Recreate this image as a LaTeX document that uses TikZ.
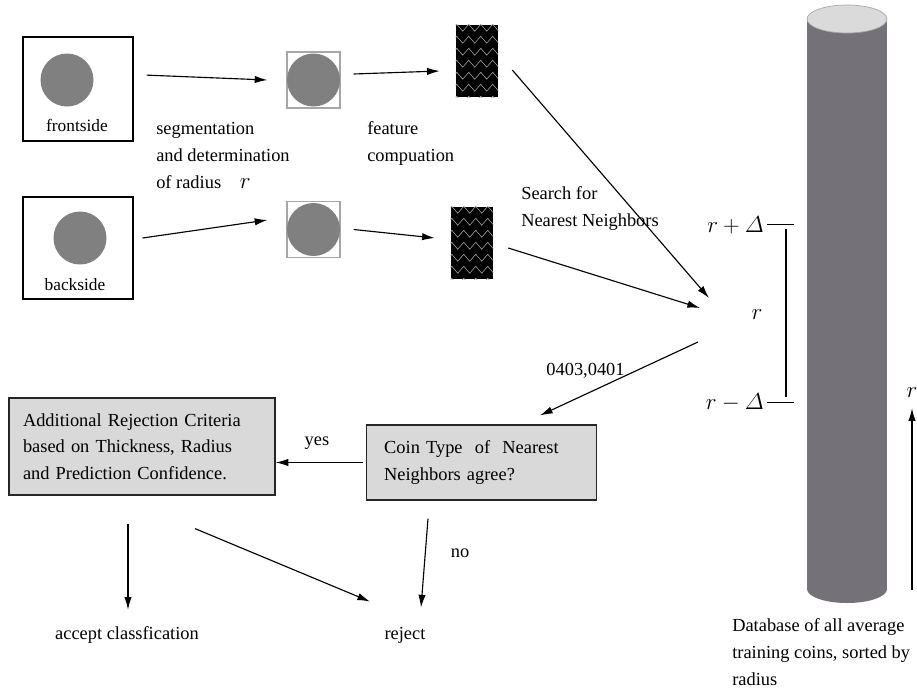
\documentclass[tikz,border=0pt]{standalone}
\usepackage[no-math]{fontspec}
\setmainfont{Liberation Serif}
\usepackage{amsmath}
\usetikzlibrary{calc,arrows.meta,decorations.pathmorphing}

\definecolor{coingray}{RGB}{128,128,128}
\definecolor{boxgray}{RGB}{217,217,217}
\definecolor{dbgray}{RGB}{116,114,120}
\definecolor{dbtop}{RGB}{218,218,218}

\tikzset{
  lbl/.style={inner sep=0pt,font=\fontsize{13.8}{19.9}\selectfont,align=left},
  mlbl/.style={inner sep=0pt,font=\fontsize{17}{20}\selectfont},
  side/.style={draw=black,line width=0.8pt,minimum width=82.5pt,inner sep=0pt},
  coin/.style={circle,fill=coingray,minimum size=39.75pt,inner sep=0pt},
  cut/.style={draw=gray!70,line width=0.9pt,minimum width=39.75pt,minimum height=42pt,inner sep=0pt},
  feat/.style={fill=black,minimum width=31.5pt,minimum height=54pt,inner sep=0pt},
  zz/.style={draw=gray!75,line width=0.45pt,decorate,decoration={zigzag,segment length=9pt,amplitude=2.6pt}},
  decision/.style={draw=black!85,line width=0.9pt,fill=boxgray,align=left,inner ysep=0pt,font=\fontsize{13.8}{19.9}\selectfont},
  arr/.style={-{Latex[length=9.5pt,width=5.5pt]},line width=0.85pt},
}

\begin{document}
\begin{tikzpicture}[yscale=-1,x=0.75pt,y=0.75pt]
\useasboundingbox (0,0) rectangle (917,690);

\node[side,minimum height=78pt] (Nfront) at (78,89) {};
\node[coin] (Ncoinf) at (67,80) {};
\node[lbl,font=\fontsize{13}{15}\selectfont,anchor=base] (Lfront) at (77,131) {frontside};
\node[side,minimum height=76.5pt] (Nback) at (78,248) {};
\node[coin] (Ncoinb) at (80,238) {};
\node[lbl,font=\fontsize{13}{15}\selectfont,anchor=base] (Lback) at (75,290) {backside};

\node[cut] (Ncut1) at (313.5,80) {};
\node[coin] (Ncoin1) at (313.5,80) {};
\node[cut] (Ncut2) at (313.5,229.5) {};
\node[coin] (Ncoin2) at (313.5,229.5) {};

\node[feat] (Nfeat1) at (477,61) {};
\node[feat] (Nfeat2) at (472,243) {};
\foreach \f in {Nfeat1,Nfeat2}{
  \begin{scope}
    \clip (\f.south west) rectangle (\f.north east);
    \foreach \k in {0,...,6}
      \draw[zz] ($(\f.north west)+(-2,3+12*\k)$) -- ++(48,0);
  \end{scope}
}

\node[lbl,anchor=base west] (Lseg) at (156,188) {segmentation\\and determination\\of radius\hspace{14pt}{\fontsize{17}{20}\selectfont$r$}};
\node[lbl,anchor=base west] (Lfeat) at (367,161.5) {feature\\compuation};
\node[lbl,anchor=base west] (Lsearch) at (521,226.5) {Search for\\Nearest Neighbors};

\fill[dbgray] (807,19) rectangle (887,589);
\fill[dbgray] (847,589) ellipse [x radius=30pt,y radius=10.5pt];
\filldraw[fill=dbtop,draw=gray!70,line width=0.5pt] (847,19) ellipse [x radius=30pt,y radius=10.5pt];

\node[mlbl,anchor=base east] (Nrp) at (764,232) {$r+\varDelta$};
\node[mlbl,anchor=base east] (Nrm) at (764,409) {$r-\varDelta$};
\node[mlbl] (Nr) at (757,315) {$r$};
\node[mlbl] (Nrr) at (912,393) {$r$};
\coordinate (Bt) at (786,229);
\coordinate (Bb) at (786,397);
\draw[line width=0.8pt] ($(Nrp.east)+(3,0)$) -- ++(27,0);
\draw[line width=0.8pt] ($(Nrm.east)+(3,0)$) -- ++(27,0);
\draw[line width=0.8pt] (Bt) -- (Bb);

\coordinate (Hit1) at (709,298);
\coordinate (Hit2) at (700,308);
\coordinate (Out) at (698,342);
\coordinate (Rs) at (912,590);

\node[lbl,anchor=base] (Lcodes) at (585.5,375) {0403,0401};
\node[decision,text width=146pt,inner xsep=13.5pt,minimum height=56.25pt] (Nagree) at (481.5,462.5) {Coin Type\ \ of\ \ Nearest\\Neighbors agree?};
\node[decision,text width=178.5pt,inner xsep=10.5pt,minimum height=72.75pt] (Nextra) at (142,446.5) {Additional Rejection Criteria\\based on Thickness, Radius\\and Prediction Confidence.};
\node[lbl,anchor=base] (Lyes) at (317,445) {yes};
\node[lbl,anchor=base] (Lno) at (460,557) {no};
\node[lbl,anchor=base] (Naccept) at (127,639) {accept classfication};
\node[lbl,anchor=base] (Nreject) at (405,639) {reject};
\node[lbl,anchor=base west] (Ldb) at (732,685) {Database of all average\\training coins, sorted by\\radius};

\draw[arr] ($(Nfront.15)+(13,1)$) -- ($(Ncut1.west)+(-19,0)$);
\draw[arr] ($(Ncut1.east)+(13,-6)$) -- ($(Nfeat1.west)+(-16,10)$);
\draw[arr] ($(Nback.east)+(9,-10)$) -- ($(Ncut2.west)+(-19,-9.5)$);
\draw[arr] ($(Ncut2.east)+(13,0)$) -- ($(Nfeat2.west)+(-16,-5)$);
\draw[arr] ($(Nfeat1.east)+(14,9)$) -- (Hit1);
\draw[arr] ($(Nfeat2.east)+(15,5)$) -- (Hit2);
\draw[arr] (Out) -- ($(Nagree.north)+(58.5,-9)$);
\draw[arr] ($(Nagree.west)+(-3,0)$) -- (Nagree.west -| Nextra.east);
\draw[arr] ($(Nextra.south)+(-14,28)$) -- ($(Naccept.north)+(1,-16)$);
\draw[arr] ($(Nextra.south)+(53,33)$) -- ($(Nreject.north)+(-35,-25)$);
\draw[arr] ($(Nagree.south)+(-53.5,18)$) -- ($(Nreject.north)+(16,-19)$);
\draw[arr] (Rs) -- ($(Nrr.south)+(0,10)$);
\end{tikzpicture}
\end{document}
